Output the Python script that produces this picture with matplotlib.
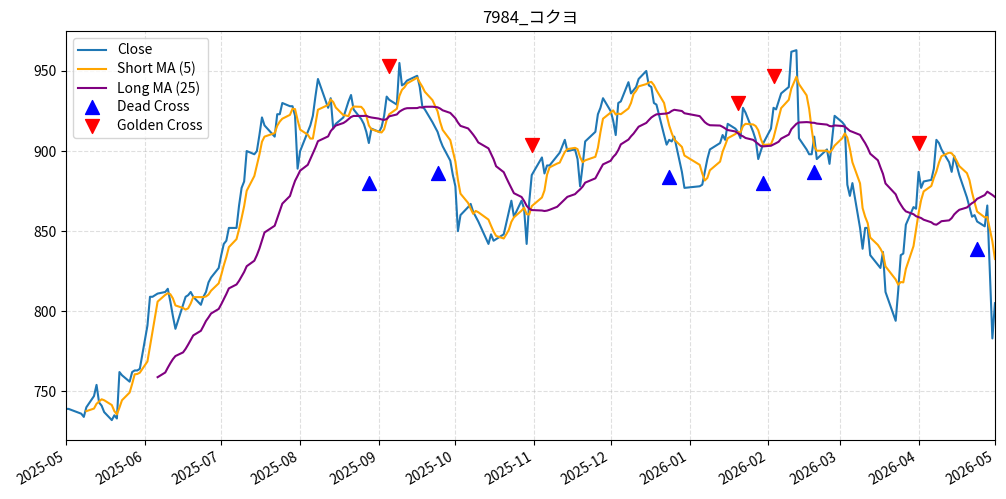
import matplotlib
matplotlib.use("Agg")
from matplotlib import pyplot as plt
import matplotlib.dates as mdates
from pandas import DataFrame
import pandas as pd

plt.rcParams['font.family'] = ['Noto Sans CJK JP', 'DejaVu Sans']

# TSE trading days (weekdays minus market holidays)
holidays = ['2025-05-05', '2025-05-06', '2025-07-21', '2025-08-11', '2025-09-15', '2025-09-23',
            '2025-10-13', '2025-11-03', '2025-11-24', '2025-12-31', '2026-01-01', '2026-01-02',
            '2026-01-12', '2026-02-11', '2026-02-23', '2026-03-20', '2026-04-29']

# close prices by month
close_may = [739, 739, 736, 734, 740, 747, 754, 743, 741, 737, 732, 735, 733, 762, 760, 756, 762, 763, 763, 764]
close_jun = [791, 809, 809, 810, 811, 812, 814, 806, 797, 789, 804, 809, 810, 812, 809, 804, 809, 812, 818, 821, 827]
close_jul = [835, 842, 844, 852, 852, 866, 877, 881, 900, 898, 900, 910, 921, 916, 909, 923, 923, 930, 928, 928, 922, 889]
close_aug = [900, 912, 916, 922, 934, 945, 927, 933, 914, 917, 921, 926, 931, 935, 926, 920, 917, 912, 905, 914]
close_sep = [912, 915, 922, 934, 932, 929, 955, 941, 942, 944, 947, 940, 928, 926, 918, 912, 907, 903, 894, 885]
close_oct = [878, 850, 860, 865, 867, 862, 859, 856, 842, 848, 844, 845, 848, 855, 862, 869, 859, 869, 864, 842, 868, 885]
close_nov = [896, 886, 891, 891, 897, 899, 903, 907, 900, 901, 895, 878, 891, 906, 912, 923, 927, 933]
close_dec = [925, 919, 910, 930, 931, 943, 936, 938, 940, 945, 950, 941, 940, 930, 929, 910, 904, 907, 906, 909, 887, 877]
close_jan = [878, 879, 887, 895, 901, 905, 910, 907, 917, 914, 912, 908, 927, 924, 912, 907, 895, 900, 905]
close_feb = [914, 927, 926, 931, 936, 940, 962, 963, 908, 901, 898, 898, 909, 895, 901, 892, 907, 922]
close_mar = [918, 916, 879, 872, 880, 852, 839, 852, 852, 835, 829, 827, 837, 812, 794, 813, 835, 836, 854, 865, 864]
close_apr = [887, 877, 881, 882, 889, 907, 905, 901, 893, 887, 897, 891, 885, 871, 865, 859, 860, 856, 853, 866, 783]
close_may26 = [805]

# cross signals
deadDates = ['2025-08-28', '2025-09-24', '2025-12-24', '2026-01-30', '2026-02-19', '2026-04-24']
deadValues = [880, 886, 884, 880, 887, 839]
goldenDates = ['2025-09-05', '2025-10-31', '2026-01-20', '2026-02-03', '2026-04-01']
goldenValues = [953, 904, 930, 947, 905]

closeAll = (close_may + close_jun + close_jul + close_aug + close_sep + close_oct + close_nov
            + close_dec + close_jan + close_feb + close_mar + close_apr + close_may26)
days = pd.bdate_range('2025-05-01', '2026-05-01')
days = days[~days.isin(pd.to_datetime(holidays))]

df = DataFrame({'Close': closeAll}, index=days)
df['Short'] = df['Close'].rolling(5).mean()
df['Long'] = df['Close'].rolling(25).mean()

fig = plt.figure(figsize=(10.06, 4.99), dpi=100)
ax = fig.add_subplot(111)
fig.subplots_adjust(left=0.0656, right=0.989, top=0.938, bottom=0.118)

ax.plot(df.index, df['Close'], color='#1f77b4', lw=1.5, label='Close')
ax.plot(df.index, df['Short'], color='orange', lw=1.5, label='Short MA (5)')
ax.plot(df.index, df['Long'], color='purple', lw=1.5, label='Long MA (25)')
ax.scatter(pd.to_datetime(deadDates), deadValues, marker='^', color='blue', s=100, label='Dead Cross', zorder=3)
ax.scatter(pd.to_datetime(goldenDates), goldenValues, marker='v', color='red', s=100, label='Golden Cross', zorder=3)

ax.set_title('7984_コクヨ', fontsize=12)
ax.set_xlim(pd.Timestamp('2025-05-01'), pd.Timestamp('2026-05-01'))
ax.set_ylim(719.5, 975)
ax.set_yticks([750, 800, 850, 900, 950])
ax.xaxis.set_major_locator(mdates.MonthLocator())
ax.xaxis.set_major_formatter(mdates.DateFormatter('%Y-%m'))
ax.tick_params(labelsize=10)
for lbl in ax.get_xticklabels():
    lbl.set_rotation(30)
    lbl.set_ha('right')
ax.grid(True, linestyle='--', alpha=0.4)
ax.legend(loc='upper left', fontsize=10, labelspacing=0.32)

fig.savefig('out.png', dpi=100)
